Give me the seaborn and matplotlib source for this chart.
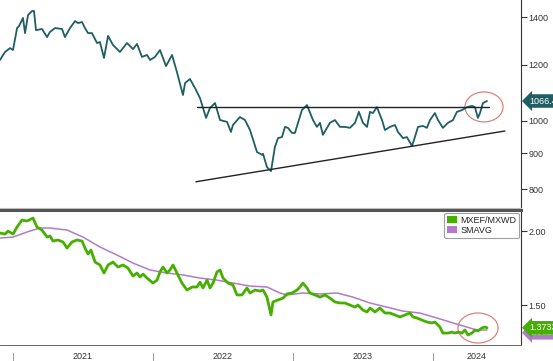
import numpy as np
import pandas as pd
import matplotlib
matplotlib.use("Agg")
import matplotlib.pyplot as plt
import matplotlib.dates as mdates
import matplotlib.transforms as mtrans
from matplotlib.patches import Ellipse, Patch
from matplotlib.ticker import FixedLocator, FixedFormatter, NullLocator
import seaborn as sns

# ---------------- data ----------------
idx_years = [2020.907, 2020.943, 2020.979, 2021.000, 2021.029, 2021.043, 2021.071, 2021.086, 2021.107, 2021.136,
             2021.150, 2021.164, 2021.207, 2021.243, 2021.264, 2021.300, 2021.350, 2021.371, 2021.407, 2021.443,
             2021.464, 2021.493, 2021.514, 2021.536, 2021.564, 2021.600, 2021.621, 2021.650, 2021.679, 2021.714,
             2021.764, 2021.814, 2021.857, 2021.886, 2021.921, 2021.957, 2021.979, 2022.014, 2022.050, 2022.093,
             2022.136, 2022.171, 2022.214, 2022.229, 2022.264, 2022.300, 2022.336, 2022.379, 2022.407, 2022.443,
             2022.479, 2022.529, 2022.557, 2022.571, 2022.621, 2022.657, 2022.693, 2022.743, 2022.779, 2022.786,
             2022.814, 2022.843, 2022.871, 2022.893, 2022.921, 2022.943, 2022.964, 2022.993, 2023.014, 2023.064,
             2023.100, 2023.143, 2023.171, 2023.193, 2023.214, 2023.264, 2023.300, 2023.336, 2023.371, 2023.407,
             2023.443, 2023.471, 2023.500, 2023.529, 2023.550, 2023.571, 2023.600, 2023.636, 2023.657, 2023.693,
             2023.729, 2023.750, 2023.786, 2023.814, 2023.850, 2023.871, 2023.893, 2023.929, 2023.957, 2023.979,
             2024.014, 2024.036, 2024.071, 2024.107, 2024.143, 2024.171, 2024.207, 2024.243, 2024.279, 2024.300,
             2024.321, 2024.336, 2024.357, 2024.386]
idx_values = [1218, 1250, 1266, 1258, 1351, 1360, 1396, 1329, 1409, 1428,
              1428, 1342, 1347, 1312, 1334, 1351, 1347, 1312, 1351, 1382,
              1373, 1378, 1351, 1329, 1329, 1287, 1291, 1226, 1317, 1279,
              1250, 1287, 1262, 1283, 1230, 1238, 1218, 1230, 1258, 1194,
              1238, 1171, 1087, 1130, 1145, 1112, 1076, 1009, 1042, 1059,
              1002, 996, 964, 986, 1012, 1002, 970, 903, 895, 898,
              860, 849, 918, 945, 948, 980, 977, 961, 961, 1035,
              1052, 1002, 980, 993, 955, 993, 1002, 980, 980, 977,
              993, 1029, 993, 980, 1029, 1025, 1045, 1002, 970, 980,
              986, 964, 945, 948, 921, 948, 980, 983, 977, 1002,
              1025, 1002, 977, 993, 1002, 1029, 1035, 1045, 1049, 1045,
              1009, 1025, 1059, 1066]

ratio_years = [2020.907, 2020.943, 2020.964, 2021.000, 2021.029, 2021.064, 2021.100, 2021.143, 2021.171, 2021.207,
               2021.243, 2021.264, 2021.286, 2021.321, 2021.357, 2021.386, 2021.421, 2021.457, 2021.493, 2021.514,
               2021.536, 2021.557, 2021.586, 2021.621, 2021.650, 2021.679, 2021.714, 2021.750, 2021.786, 2021.821,
               2021.857, 2021.886, 2021.907, 2021.929, 2021.957, 2022.000, 2022.029, 2022.050, 2022.071, 2022.100,
               2022.121, 2022.143, 2022.171, 2022.207, 2022.243, 2022.279, 2022.314, 2022.336, 2022.357, 2022.386,
               2022.407, 2022.429, 2022.457, 2022.479, 2022.500, 2022.536, 2022.571, 2022.600, 2022.636, 2022.671,
               2022.693, 2022.729, 2022.764, 2022.786, 2022.814, 2022.843, 2022.857, 2022.893, 2022.929, 2022.957,
               2022.993, 2023.029, 2023.050, 2023.071, 2023.100, 2023.121, 2023.157, 2023.193, 2023.229, 2023.264,
               2023.300, 2023.336, 2023.371, 2023.407, 2023.443, 2023.464, 2023.500, 2023.529, 2023.550, 2023.586,
               2023.621, 2023.657, 2023.693, 2023.729, 2023.764, 2023.800, 2023.836, 2023.857, 2023.886, 2023.921,
               2023.957, 2023.993, 2024.014, 2024.050, 2024.071, 2024.107, 2024.136, 2024.157, 2024.179, 2024.207,
               2024.229, 2024.250, 2024.279, 2024.300, 2024.321, 2024.350, 2024.371, 2024.386]
ratio_values = [1.985, 1.977, 2.000, 1.977, 2.032, 2.088, 2.080, 2.104, 2.032, 2.008,
                1.954, 1.962, 1.924, 1.932, 1.917, 1.872, 1.917, 1.932, 1.924, 1.872,
                1.829, 1.858, 1.773, 1.753, 1.699, 1.753, 1.773, 1.739, 1.753, 1.732,
                1.679, 1.699, 1.673, 1.692, 1.666, 1.634, 1.653, 1.706, 1.739, 1.699,
                1.719, 1.753, 1.699, 1.634, 1.590, 1.609, 1.609, 1.640, 1.603, 1.653,
                1.603, 1.634, 1.706, 1.719, 1.666, 1.634, 1.622, 1.560, 1.560, 1.603,
                1.572, 1.590, 1.584, 1.590, 1.547, 1.443, 1.518, 1.530, 1.541, 1.566,
                1.572, 1.590, 1.609, 1.634, 1.603, 1.572, 1.560, 1.547, 1.560, 1.541,
                1.518, 1.512, 1.512, 1.500, 1.488, 1.500, 1.471, 1.460, 1.483, 1.460,
                1.483, 1.454, 1.454, 1.443, 1.432, 1.443, 1.454, 1.432, 1.426, 1.415,
                1.404, 1.399, 1.404, 1.377, 1.345, 1.345, 1.350, 1.345, 1.350, 1.345,
                1.361, 1.335, 1.345, 1.361, 1.356, 1.372, 1.377, 1.373]

sma_years = [2020.907, 2021.000, 2021.100, 2021.193, 2021.264, 2021.386, 2021.500, 2021.621, 2021.743, 2021.857,
             2021.979, 2022.100, 2022.214, 2022.336, 2022.457, 2022.571, 2022.693, 2022.814, 2022.907, 2022.957,
             2023.071, 2023.193, 2023.314, 2023.429, 2023.550, 2023.671, 2023.786, 2023.907, 2024.029, 2024.143,
             2024.264, 2024.314, 2024.386]
sma_values = [1.947, 1.954, 1.993, 2.024, 2.024, 2.008, 1.954, 1.880, 1.822, 1.766,
              1.719, 1.699, 1.686, 1.666, 1.653, 1.634, 1.615, 1.609, 1.572, 1.560,
              1.572, 1.566, 1.572, 1.547, 1.512, 1.488, 1.465, 1.454, 1.426, 1.399,
              1.372, 1.361, 1.361]

resist_years = [2022.314, 2024.400]
resist_values = [1045, 1045]
support_years = [2022.307, 2024.514]
support_values = [820, 967]

top_ticks = [800, 900, 1000, 1200, 1400]
bottom_ticks = [1.50, 2.00]
bottom_tick_labels = ["1.50", "2.00"]
year_labels = ["2021", "2022", "2023", "2024"]
series_names = ["MXEF/MXWD", "SMAVG"]
last_idx_label = "1066.45"
last_ratio_label = "1.3733"
last_sma_label = "1.3613"
x_range = [2020.907, 2024.629]


def to_date(y):
    y = np.asarray(y, dtype=float)
    return pd.Timestamp("2021-01-01") + pd.to_timedelta((y - 2021.0) * 365.25, unit="D")


sns.set_style("white")
plt.rcParams["font.family"] = ["Liberation Sans", "DejaVu Sans"]

TEAL = "#1e5e64"
GREEN = "#46b000"
PURPLE = "#b07cc6"
RING = "#d9857c"
TXT = "#333333"

fig = plt.figure(figsize=(5.53, 3.61), dpi=100)
ax1 = fig.add_axes([0, 1 - 208 / 361, 521 / 553, 208 / 361])
ax2 = fig.add_axes([0, 16 / 361, 521 / 553, 135 / 361])

xl = to_date(x_range)

# ---------------- top panel ----------------
df_idx = pd.DataFrame({"date": to_date(idx_years), "value": idx_values})
sns.lineplot(data=df_idx, x="date", y="value", ax=ax1, color=TEAL, lw=1.3)
sns.lineplot(x=to_date(resist_years), y=resist_values, ax=ax1, color="#222222", lw=1.0)
sns.lineplot(x=to_date(support_years), y=support_values, ax=ax1, color="#222222", lw=1.0)
ax1.set_yscale("log")
ax1.set_ylim(753, 1480)
ax1.set_xlim(xl[0], xl[1])
ax1.yaxis.tick_right()
ax1.yaxis.set_major_locator(FixedLocator(top_ticks))
ax1.yaxis.set_major_formatter(FixedFormatter([str(t) for t in top_ticks]))
ax1.yaxis.set_minor_locator(NullLocator())
ax1.tick_params(axis="y", which="major", length=4, width=0.8, direction="out",
                labelsize=6.5, colors=TXT, pad=1.5)
ax1.set_xticks([])
ax1.set_xlabel("")
ax1.set_ylabel("")
for s in ["left", "top"]:
    ax1.spines[s].set_visible(False)
ax1.spines["bottom"].set_color("#c0c0c0")
ax1.spines["bottom"].set_linewidth(0.8)
ax1.spines["right"].set_color("#333333")
ax1.spines["right"].set_linewidth(0.8)

ax1.add_patch(Ellipse((0.929, 0.486), 0.073, 0.144, transform=ax1.transAxes,
                      fill=False, ec=RING, lw=0.9))

tr1 = mtrans.blended_transform_factory(ax1.transAxes, ax1.transData)
ax1.annotate(last_idx_label, xy=(1.0, idx_values[-1]), xycoords=tr1,
             xytext=(6, 0), textcoords="offset points", ha="left", va="center",
             fontsize=6.5, color="white", annotation_clip=False,
             bbox=dict(boxstyle="larrow,pad=0.25", fc=TEAL, ec="none"))

# ---------------- bottom panel ----------------
df_sma = pd.DataFrame({"date": to_date(sma_years), "value": sma_values})
df_ratio = pd.DataFrame({"date": to_date(ratio_years), "value": ratio_values})
sns.lineplot(data=df_sma, x="date", y="value", ax=ax2, color=PURPLE, lw=1.1)
sns.lineplot(data=df_ratio, x="date", y="value", ax=ax2, color=GREEN, lw=2.0)
ax2.set_yscale("log")
ax2.set_ylim(1.284, 2.171)
ax2.set_xlim(xl[0], xl[1])
ax2.yaxis.tick_right()
ax2.yaxis.set_major_locator(FixedLocator(bottom_ticks))
ax2.yaxis.set_major_formatter(FixedFormatter(bottom_tick_labels))
ax2.yaxis.set_minor_locator(NullLocator())
ax2.tick_params(axis="y", which="major", length=4, width=0.8, direction="out",
                labelsize=6.5, colors=TXT, pad=1.5)
ax2.set_xlabel("")
ax2.set_ylabel("")

# x axis: monthly minor ticks, year labels centred on the visible part of each year
years_int = [int(y) for y in year_labels]
starts = [pd.Timestamp(f"{y}-01-01") for y in years_int]
ends = [min(pd.Timestamp(f"{y + 1}-01-01"), xl[1]) for y in years_int]
mids = [s + (e - s) / 2 for s, e in zip(starts, ends)]
ax2.set_xticks(mids)
ax2.set_xticklabels(year_labels)
ax2.xaxis.set_minor_locator(mdates.MonthLocator())
ax2.tick_params(axis="x", which="major", length=0, pad=5.3, labelsize=6.5, colors=TXT)
ax2.tick_params(axis="x", which="minor", length=3, width=0.6, color="#777777", direction="out")

trx = mtrans.blended_transform_factory(ax2.transData, ax2.transAxes)
for s in starts:
    ax2.plot([s, s], [-0.06, -0.125], transform=trx, color="#999999", lw=0.7, clip_on=False)

ax2.spines["left"].set_visible(False)
ax2.spines["top"].set_color("#555555")
ax2.spines["top"].set_linewidth(2.2)
ax2.spines["right"].set_color("#333333")
ax2.spines["right"].set_linewidth(0.8)
ax2.spines["bottom"].set_color("#666666")
ax2.spines["bottom"].set_linewidth(0.7)

ax2.add_patch(Ellipse((0.9175, 0.126), 0.077, 0.222, transform=ax2.transAxes,
                      fill=False, ec=RING, lw=0.9))

tr2 = mtrans.blended_transform_factory(ax2.transAxes, ax2.transData)
ax2.annotate(last_sma_label, xy=(1.0, sma_values[-1]), xycoords=tr2,
             xytext=(6, -2), textcoords="offset points", ha="left", va="center",
             fontsize=6.5, color="white", annotation_clip=False,
             bbox=dict(boxstyle="larrow,pad=0.25", fc=PURPLE, ec="none"))
ax2.annotate(last_ratio_label, xy=(1.0, ratio_values[-1]), xycoords=tr2,
             xytext=(6, 0), textcoords="offset points", ha="left", va="center",
             fontsize=6.5, color="white", annotation_clip=False,
             bbox=dict(boxstyle="larrow,pad=0.25", fc=GREEN, ec="none"))

handles = [Patch(facecolor=GREEN, edgecolor="none", label=series_names[0]),
           Patch(facecolor=PURPLE, edgecolor="none", label=series_names[1])]
leg = ax2.legend(handles=handles, loc="upper right", bbox_to_anchor=(0.997, 0.975),
                 fontsize=6.5, frameon=True, fancybox=True, handlelength=1.1,
                 handleheight=0.8, handletextpad=0.4, borderpad=0.3,
                 labelspacing=0.1, borderaxespad=0.0)
leg.get_frame().set_edgecolor("#888888")
leg.get_frame().set_linewidth(0.8)
for t in leg.get_texts():
    t.set_color("#222222")

fig.savefig("out.png", dpi=100)
